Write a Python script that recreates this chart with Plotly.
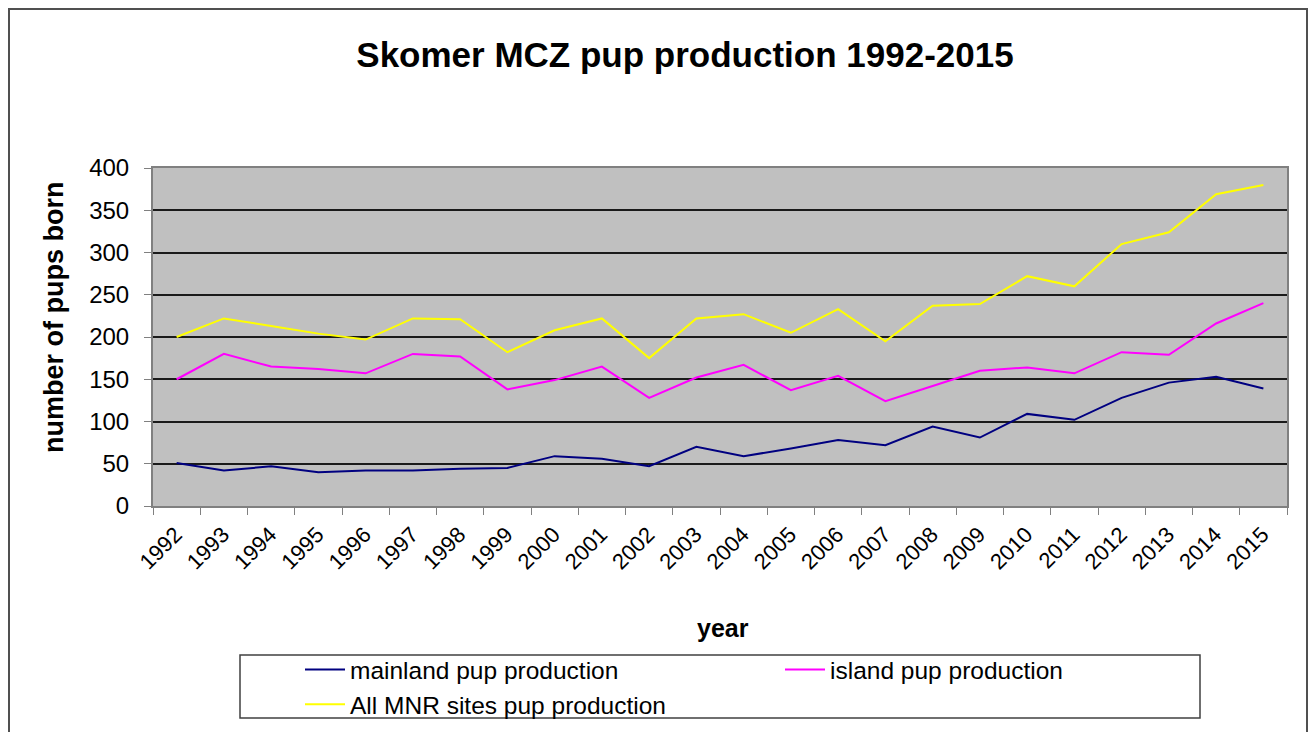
import plotly.graph_objects as go

years = [str(y) for y in range(1992, 2016)]
mainland = [51, 42, 47, 40, 42, 42, 44, 45, 59, 56, 47, 70, 59, 68, 78, 72, 94, 81, 109, 102, 128, 146, 153, 139]
island = [150, 180, 165, 162, 157, 180, 177, 138, 149, 165, 128, 152, 167, 137, 154, 124, 142, 160, 164, 157, 182, 179, 216, 240]
all_sites = [200, 222, 213, 204, 197, 222, 221, 182, 208, 222, 175, 222, 227, 205, 233, 195, 237, 239, 272, 260, 310, 324, 369, 380]

OFF = 8  # page body margin
W, H = 1316 - 2 * OFF, 742 - 2 * OFF - 2
# plot area in page pixels
PL, PR, PT, PB = 153, 1287, 168, 506
FONT = "Arial, 'Liberation Sans', sans-serif"


def px_x(p):
    return (p - PL) / (PR - PL)


def px_y(p):
    return (PB - p) / (PB - PT)


fig = go.Figure()
fig.add_trace(go.Scatter(x=years, y=mainland, mode="lines", name="mainland pup production",
                         line=dict(color="#000080", width=2)))
fig.add_trace(go.Scatter(x=years, y=island, mode="lines", name="island pup production",
                         line=dict(color="#FF00FF", width=2)))
fig.add_trace(go.Scatter(x=years, y=all_sites, mode="lines", name="All MNR sites pup production",
                         line=dict(color="#FFFF00", width=2)))

fig.update_layout(
    width=W, height=H,
    margin=dict(l=PL - OFF, r=W - (PR - OFF), t=PT - OFF, b=H - (PB - OFF), pad=0, autoexpand=False),
    paper_bgcolor="white",
    plot_bgcolor="#C0C0C0",
    font=dict(family=FONT, color="black"),
    showlegend=True,
    legend=dict(
        orientation="h",
        x=px_x(300), y=px_y(647), xanchor="left", yanchor="top",
        xref="paper", yref="paper",
        entrywidth=425, entrywidthmode="pixels",
        font=dict(family=FONT, size=24.5, color="black"),
        bgcolor="rgba(0,0,0,0)", borderwidth=0,
        itemwidth=40,
    ),
    title=dict(
        text="<b>Skomer MCZ pup production 1992-2015</b>",
        x=(685 - OFF) / W, xanchor="center",
        y=1 - (55 - OFF) / H, yanchor="middle",
        xref="container", yref="container",
        font=dict(family=FONT, size=35, color="black"),
    ),
    hovermode=False,
)

fig.update_xaxes(
    type="category",
    range=[-0.5, len(years) - 0.5],
    automargin=False,
    tickson="boundaries",
    ticks="outside", ticklen=7, tickcolor="#808080", tickwidth=1,
    tickangle=-45,
    ticklabelstandoff=5, ticklabelshift=-1,
    tickfont=dict(family=FONT, size=22, color="black"),
    showgrid=False,
    showline=True, linecolor="#808080", linewidth=2, mirror=True,
)
fig.update_yaxes(
    range=[0, 400], dtick=50,
    automargin=False,
    ticks="outside", ticklen=7, tickcolor="#808080", tickwidth=1,
    ticklabelstandoff=10,
    tickfont=dict(family=FONT, size=24, color="black"),
    showgrid=True, gridcolor="#1a1a1a", gridwidth=2,
    zeroline=False,
    showline=True, linecolor="#808080", linewidth=2, mirror=True,
)

# axis titles
fig.add_annotation(text="<b>year</b>", x=px_x(723), y=px_y(628), xref="paper", yref="paper",
                   showarrow=False, xanchor="center", yanchor="middle",
                   font=dict(family=FONT, size=25, color="black"))
fig.add_annotation(text="<b>number of pups born</b>", x=px_x(54), y=px_y(318), xref="paper", yref="paper",
                   showarrow=False, xanchor="center", yanchor="middle", textangle=-90,
                   font=dict(family=FONT, size=27, color="black"))

# legend box
fig.add_shape(type="rect", xref="paper", yref="paper",
              x0=px_x(240), x1=px_x(1200), y0=px_y(655), y1=px_y(718),
              line=dict(color="#404040", width=1.5), fillcolor="rgba(0,0,0,0)", layer="above")
# outer chart border (left, top, right; bottom runs off the picture)
bx0, bx1, by0, by1 = px_x(9), px_x(1307), px_y(9), px_y(745)
fig.add_shape(type="path", xref="paper", yref="paper",
              path=f"M {bx0} {by1} L {bx0} {by0} L {bx1} {by0} L {bx1} {by1}",
              line=dict(color="#505050", width=2), layer="above")

fig.write_html("out.html", config={"displayModeBar": False})
